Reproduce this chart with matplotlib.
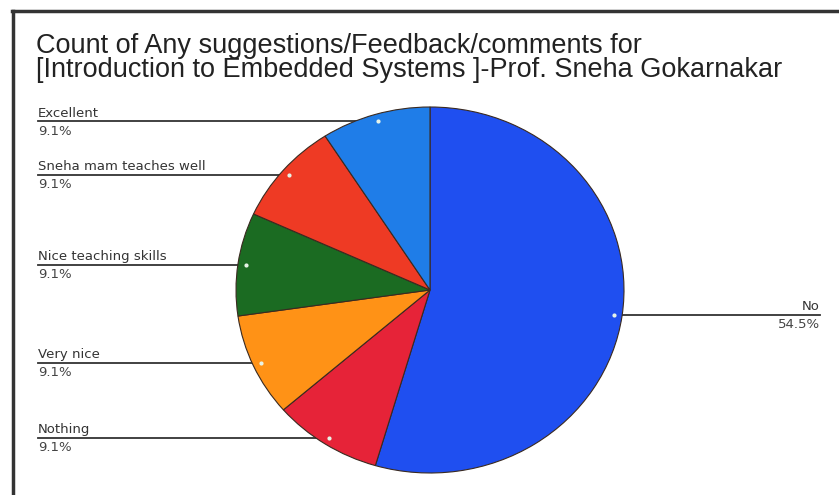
import matplotlib.pyplot as plt
import numpy as np

# data, clockwise from 12 o'clock
labels = ['No', 'Nothing', 'Very nice', 'Nice teaching skills',
          'Sneha mam teaches well', 'Excellent']
counts = [6, 1, 1, 1, 1, 1]
colors = ['#1f4ff0', '#e62338', '#ff9216', '#1b6b22', '#ee3a24', '#1f7de8']
title = ('Count of Any suggestions/Feedback/comments for\n'
         '[Introduction to Embedded Systems ]-Prof. Sneha Gokarnakar')

W, H = 839, 495
fig = plt.figure(figsize=(W / 100, H / 100), dpi=100)
ax = fig.add_axes([0, 0, 1, 1])

# pie centre and radii in pixels (scan is slightly squashed)
cx, cy, rx, ry = 430, 290, 194, 183

wedges, _ = ax.pie(counts, colors=colors, startangle=90, counterclock=False,
                   wedgeprops=dict(linewidth=0.8, edgecolor='#3a2a20', zorder=2))
ax.set_aspect('auto')
ax.set_xlim(-cx / rx, (W - cx) / rx)
ax.set_ylim(-(H - cy) / ry, cy / ry)
ax.axis('off')

total = sum(counts)
left_x = (38 - cx) / rx
right_x = (820 - cx) / rx
for w, lab, n in zip(wedges, labels, counts):
    mid = np.deg2rad((w.theta1 + w.theta2) / 2)
    px, py = 0.96 * np.cos(mid), 0.96 * np.sin(mid)
    pct = f'{100 * n / total:.1f}%'
    tx = right_x if px > 0 else left_x
    ha = 'right' if px > 0 else 'left'
    ax.plot([tx, px], [py, py], color='#333333', lw=1.3, zorder=1)
    ax.plot(px, py, 'o', ms=2, color='#e8f4e8', zorder=3)
    ax.text(tx, py + 0.01, lab, ha=ha, va='bottom', fontsize=9.5,
            color='#333333', family='DejaVu Sans')
    ax.text(tx, py - 0.018, pct, ha=ha, va='top', fontsize=9.5,
            color='#444444', family='DejaVu Sans')

fig.text(36 / W, 1 - 33 / H, title, ha='left', va='top', fontsize=19.5,
         color='#222222', family='Liberation Sans', linespacing=0.92)

# scanned frame border
fig.add_artist(plt.Line2D([12 / W, 1], [1 - 11 / H, 1 - 11 / H],
                          transform=fig.transFigure, color='#333333', lw=2.5))
fig.add_artist(plt.Line2D([13 / W, 13 / W], [0, 1 - 11 / H],
                          transform=fig.transFigure, color='#333333', lw=2.5))

fig.savefig('out.png', dpi=100)
